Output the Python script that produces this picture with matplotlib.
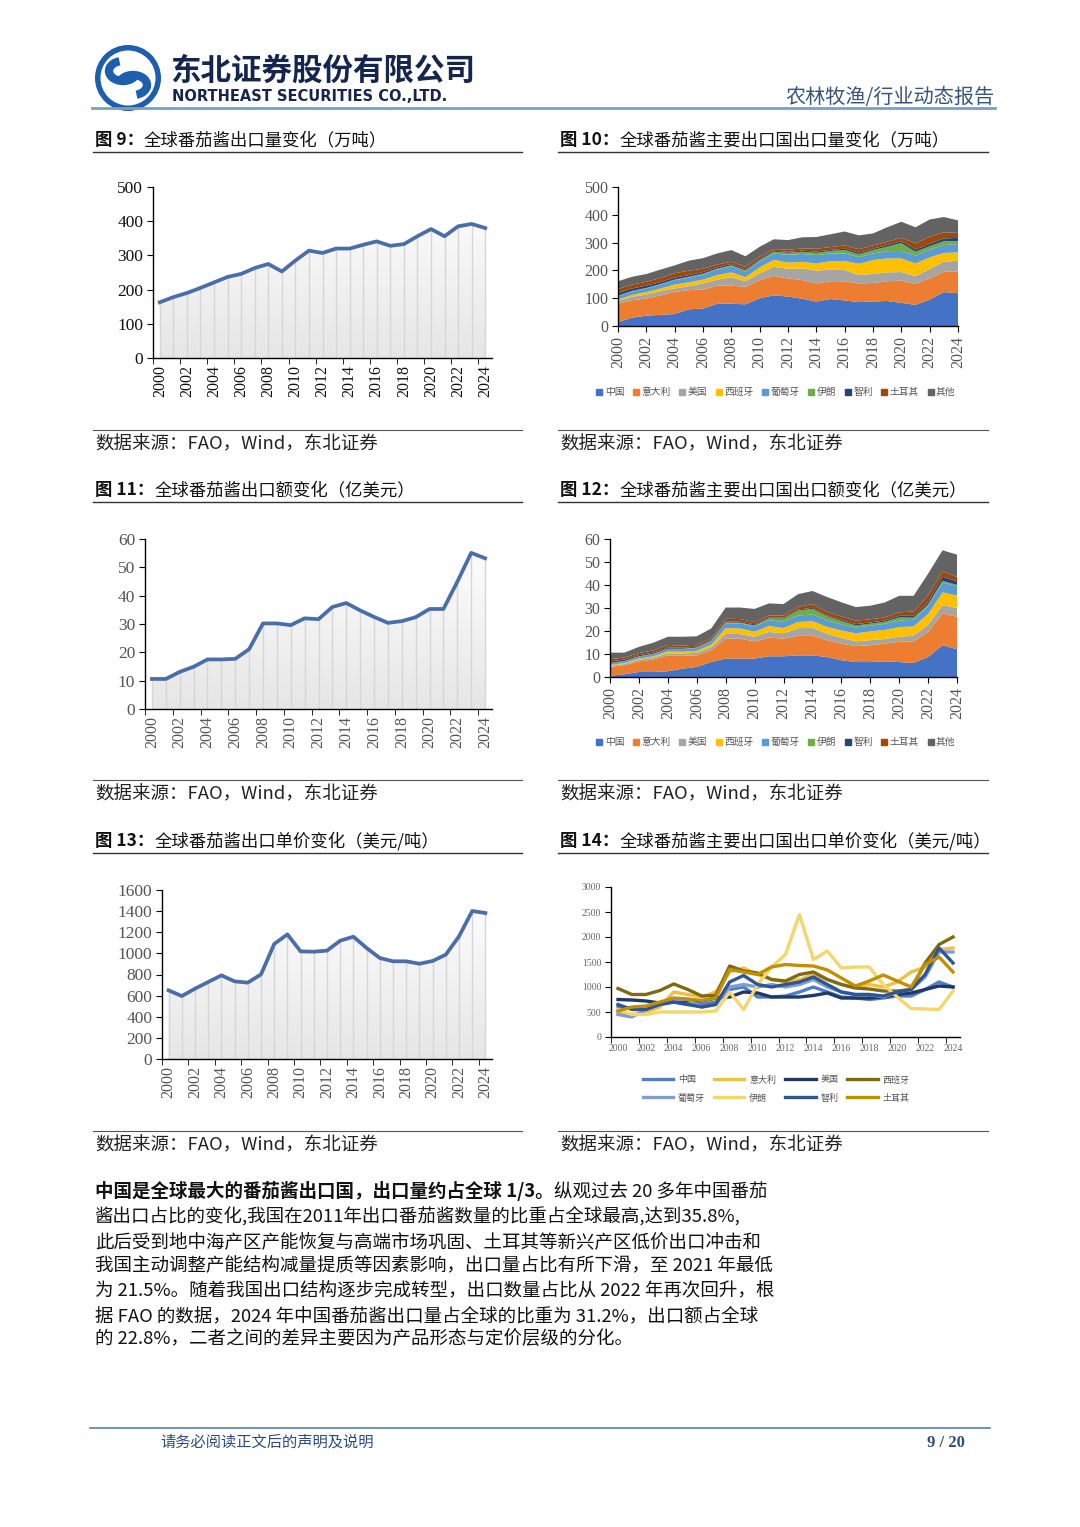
import numpy as np
import matplotlib
matplotlib.use('Agg')
import matplotlib.pyplot as plt
from matplotlib.colors import LinearSegmentedColormap
from matplotlib.lines import Line2D
from matplotlib.patches import Circle, Arc, Polygon

plt.rcParams['font.family'] = ['Noto Sans CJK SC', 'DejaVu Sans']

W, H = 1080, 1527

# ---- data ----
years = list(range(2000, 2025))

# 图9 全球番茄酱出口量（万吨）
volume_total = [163, 178, 190, 205, 221, 237, 246, 263, 275, 253, 285, 314, 307,
                320, 320, 331, 341, 328, 333, 356, 377, 356, 385, 392, 380]
# 图11 全球番茄酱出口额（亿美元）
value_total = [10.6, 10.6, 13.1, 14.9, 17.5, 17.5, 17.7, 21.1, 30.2, 30.2, 29.6, 32.0, 31.7,
               36.0, 37.4, 34.8, 32.5, 30.4, 31.0, 32.4, 35.3, 35.3, 44.9, 55.1, 53.2]
# 图13 全球番茄酱出口单价（美元/吨）
price_total = [650, 596, 666, 729, 792, 735, 723, 801, 1089, 1180, 1019, 1016, 1026,
               1120, 1158, 1051, 956, 925, 925, 902, 928, 988, 1161, 1401, 1382]

countries = ['中国', '意大利', '美国', '西班牙', '葡萄牙', '伊朗', '智利', '土耳其', '其他']
stack_colors = ['#4472C4', '#ED7D31', '#A5A5A5', '#FFC000', '#5B9BD5',
                '#70AD47', '#264478', '#9E480E', '#636363']

# 图10 主要出口国出口量（万吨）
vol_china = [14, 30, 37, 40, 43, 60, 63, 80, 80, 78, 100, 110, 106, 98, 88, 97, 92, 86, 88, 90, 83, 76, 95, 122, 118]
vol_italy = [66, 63, 62, 70, 80, 69, 68, 65, 65, 63, 65, 70, 65, 67, 65, 64, 69, 67, 67, 71, 80, 75, 76, 73, 77]
vol_usa = [10, 12, 14, 15, 12, 14, 22, 22, 30, 20, 24, 33, 35, 42, 46, 42, 40, 31, 32, 32, 31, 28, 34, 36, 40]
vol_spain = [5, 7, 9, 10, 14, 14, 14, 16, 18, 15, 22, 25, 22, 24, 26, 30, 33, 40, 50, 50, 49, 46, 42, 32, 30]
vol_portugal = [12, 12, 13, 14, 16, 17, 18, 20, 22, 20, 22, 23, 28, 28, 30, 28, 27, 24, 24, 26, 27, 28, 28, 28, 30]
vol_iran = [2, 2, 2, 2, 2, 3, 3, 3, 3, 3, 4, 6, 7, 8, 8, 9, 12, 10, 12, 16, 28, 14, 12, 14, 10]
vol_chile = [10, 9, 8, 7, 7, 6, 6, 5, 5, 4, 5, 4, 4, 4, 5, 4, 5, 6, 5, 6, 7, 8, 8, 10, 12]
vol_turkey = [14, 14, 14, 15, 16, 16, 12, 10, 8, 10, 8, 6, 7, 8, 10, 10, 12, 12, 12, 12, 12, 22, 26, 22, 18]
vol_other = [28, 28, 28, 30, 28, 36, 38, 40, 42, 38, 35, 35, 35, 40, 42, 46, 50, 50, 43, 52, 58, 58, 62, 55, 45]

# 图12 主要出口国出口额（亿美元）
val_china = [0.5, 1.2, 2.2, 2.2, 2.5, 3.6, 4.4, 6.5, 8.0, 8.0, 8.0, 9.0, 9.0, 9.4, 9.4, 8.7, 7.3, 6.5, 6.5, 6.8, 6.5, 6.1, 8.7, 13.8, 12.1]
val_italy = [3.9, 3.9, 4.6, 5.4, 6.9, 5.6, 5.0, 5.1, 8.7, 8.7, 7.5, 8.1, 7.7, 8.5, 8.5, 7.3, 7.2, 7.0, 7.3, 7.7, 8.8, 9.4, 10.9, 13.8, 14.1]
val_usa = [0.5, 0.6, 0.7, 0.8, 0.9, 1.0, 1.1, 1.3, 2.0, 2.0, 2.0, 2.5, 2.3, 3.3, 3.5, 2.8, 2.5, 2.0, 2.2, 2.0, 2.2, 2.5, 3.0, 3.6, 3.8]
val_spain = [0.3, 0.4, 0.5, 0.6, 0.8, 0.8, 0.9, 1.2, 2.5, 2.4, 2.2, 2.6, 2.3, 2.7, 2.9, 3.0, 3.2, 3.5, 3.8, 4.0, 4.2, 4.0, 4.8, 5.6, 5.4]
val_portugal = [0.8, 0.8, 0.9, 1.0, 1.1, 1.1, 1.2, 1.5, 2.2, 2.2, 2.3, 2.5, 2.6, 2.8, 2.9, 2.8, 2.7, 2.5, 2.5, 2.6, 2.8, 2.9, 3.4, 4.2, 4.2]
val_iran = [0.1, 0.1, 0.1, 0.1, 0.1, 0.2, 0.2, 0.2, 0.3, 0.3, 0.4, 0.8, 1.5, 2.2, 2.4, 1.8, 1.4, 0.9, 0.9, 0.9, 1.4, 0.9, 0.7, 0.8, 0.4]
val_chile = [0.7, 0.6, 0.5, 0.5, 0.5, 0.4, 0.4, 0.4, 0.5, 0.4, 0.5, 0.4, 0.4, 0.4, 0.5, 0.4, 0.5, 0.6, 0.5, 0.6, 0.7, 0.8, 1.0, 1.8, 1.6]
val_turkey = [0.9, 0.9, 0.9, 1.0, 1.1, 1.0, 0.8, 0.8, 1.1, 1.2, 1.0, 0.9, 0.9, 1.2, 1.6, 1.5, 1.5, 1.5, 1.4, 1.3, 1.5, 1.9, 3.0, 2.5, 1.8]
val_other = [2.9, 2.1, 2.7, 3.3, 3.6, 3.8, 3.7, 4.1, 4.9, 5.0, 5.7, 5.2, 5.0, 5.5, 5.7, 6.5, 6.2, 5.9, 5.9, 6.5, 7.2, 6.8, 9.4, 9.0, 9.8]

# 图14 主要出口国出口单价（美元/吨）
price_countries = ['中国', '意大利', '美国', '西班牙', '葡萄牙', '伊朗', '智利', '土耳其']
price_colors = ['#4F7FC9', '#EDC243', '#1F3864', '#7F6A12', '#7D9DD4', '#F4D66C', '#2F5597', '#BF9000']
price_china = [600, 580, 550, 650, 700, 650, 650, 700, 950, 1000, 800, 800, 820, 900, 1000, 900, 800, 780, 750, 780, 820, 820, 950, 1100, 1000]
price_italy = [500, 450, 500, 600, 900, 850, 800, 900, 1300, 1380, 1250, 1150, 1100, 1150, 1250, 1150, 1050, 1000, 1050, 1000, 1100, 1300, 1400, 1750, 1780]
price_usa = [750, 740, 720, 680, 700, 720, 720, 780, 800, 900, 880, 800, 800, 800, 830, 880, 780, 780, 780, 800, 850, 880, 950, 1020, 1000]
price_spain = [970, 850, 850, 930, 1060, 950, 820, 830, 1420, 1320, 1280, 1150, 1120, 1250, 1300, 1150, 1050, 980, 960, 920, 920, 950, 1480, 1850, 2000]
price_portugal = [450, 400, 550, 650, 750, 750, 600, 650, 1000, 1050, 1000, 1050, 1000, 1050, 1150, 1000, 900, 850, 850, 800, 900, 950, 1200, 1700, 1700]
price_iran = [550, 450, 450, 500, 500, 500, 500, 520, 900, 550, 1050, 1400, 1650, 2450, 1550, 1720, 1380, 1400, 1400, 1050, 800, 570, 560, 550, 920]
price_chile = [650, 550, 550, 650, 700, 650, 600, 650, 1100, 1230, 1050, 1000, 1050, 1100, 1200, 1050, 900, 850, 850, 820, 900, 950, 1250, 1780, 1480]
price_turkey = [520, 600, 620, 700, 780, 760, 730, 780, 1350, 1300, 1250, 1400, 1450, 1430, 1420, 1340, 1180, 1020, 1120, 1240, 1120, 1000, 1450, 1600, 1300]

SERIF = 'Liberation Serif'
LINE_BLUE = '#4A6EA8'

fig = plt.figure(figsize=(W / 100, H / 100), dpi=100)
page = fig.add_axes([0, 0, 1, 1], zorder=0)
page.set_xlim(0, W)
page.set_ylim(H, 0)
page.axis('off')


def axes_px(l, t, r, b):
    return fig.add_axes([l / W, 1 - b / H, (r - l) / W, (b - t) / H], zorder=2)


def two_part(x, y, bold, normal, size, color='#111111'):
    t1 = page.text(x, y, bold, fontsize=size, fontweight='bold', color=color, va='baseline')
    page.annotate(normal, xy=(1, y), xycoords=(t1, 'data'), fontsize=size,
                  color=color, va='baseline', ha='left')


# ---- header ----
page.add_patch(Circle((128, 78), 33, facecolor='#1d5fae', edgecolor='none'))
page.add_patch(Circle((128, 78), 27.5, facecolor='white', edgecolor='none'))
page.add_patch(Arc((123, 71), 28, 20, theta1=20, theta2=250, lw=6, color='#1d5fae'))
page.add_patch(Arc((133, 85), 28, 20, theta1=200, theta2=430, lw=6, color='#1d5fae'))
page.text(170, 80, '东北证券股份有限公司', fontsize=22, fontweight='bold', color='#14264d', va='baseline')
page.text(172, 101, 'NORTHEAST SECURITIES CO.,LTD.', family='DejaVu Sans', fontsize=10.5,
          fontweight='bold', color='#14264d', va='baseline')
page.text(995, 103, '农林牧渔/行业动态报告', fontsize=14.5, color='#35557a', ha='right', va='baseline')
page.plot([92, 995], [108, 108], color='#7d9fbd', lw=2)

# ---- titles / sources ----
titles = [
    (95, 145, '图 9：', '全球番茄酱出口量变化（万吨）'),
    (560, 145, '图 10：', '全球番茄酱主要出口国出口量变化（万吨）'),
    (95, 495, '图 11：', '全球番茄酱出口额变化（亿美元）'),
    (560, 495, '图 12：', '全球番茄酱主要出口国出口额变化（亿美元）'),
    (95, 846, '图 13：', '全球番茄酱出口单价变化（美元/吨）'),
    (560, 846, '图 14：', '全球番茄酱主要出口国出口单价变化（美元/吨）'),
]
for x, y, b, n in titles:
    two_part(x, y, b, n, 12.5)

for y in [152, 502, 853]:
    page.plot([93, 522], [y, y], color='#333333', lw=1)
    page.plot([558, 988], [y, y], color='#333333', lw=1)
for y in [430, 780, 1131]:
    page.plot([93, 522], [y, y], color='#555555', lw=0.8)
    page.plot([558, 988], [y, y], color='#555555', lw=0.8)
    page.text(95, y + 19, '数据来源：FAO，Wind，东北证券', fontsize=13.3, color='#222222', va='baseline')
    page.text(560, y + 19, '数据来源：FAO，Wind，东北证券', fontsize=13.3, color='#222222', va='baseline')

grad_cmap = LinearSegmentedColormap.from_list('g', ['#e6e6e6', '#ffffff'])


def style_axes(ax, color):
    for s in ['top', 'right']:
        ax.spines[s].set_visible(False)
    for s in ['left', 'bottom']:
        ax.spines[s].set_color('black')
        ax.spines[s].set_linewidth(1)
    ax.tick_params(axis='y', direction='out', length=4, color='black', labelcolor=color, pad=3)
    ax.set_facecolor('none')


def line_panel(ax, values, ymax, step, color, ysize=12.5):
    x = np.arange(len(values))
    v = np.array(values, dtype=float)
    verts = [(x[0], 0)] + list(zip(x, v)) + [(x[-1], 0)]
    clip = Polygon(verts, closed=True, facecolor='none', edgecolor='none')
    ax.add_patch(clip)
    img = ax.imshow(np.linspace(0, 1, 256).reshape(-1, 1), cmap=grad_cmap, origin='lower',
                    extent=[-0.5, len(v) - 0.5, 0, ymax], aspect='auto', zorder=1)
    img.set_clip_path(clip)
    ax.vlines(x, 0, v, color='#d6d6d6', lw=1, zorder=2)
    ax.plot(x, v, color=LINE_BLUE, lw=2.7, zorder=3, solid_joinstyle='round')
    ax.set_xlim(-0.5, len(v) - 0.5)
    ax.set_ylim(0, ymax)
    style_axes(ax, color)
    ax.set_yticks(np.arange(0, ymax + 1, step))
    ax.set_yticklabels([f'{t:g}' for t in np.arange(0, ymax + 1, step)], family=SERIF, fontsize=ysize)
    ax.set_xticks(np.arange(0, len(v), 2))
    ax.set_xticklabels([str(y) for y in years[::2]], rotation=90, family=SERIF, fontsize=11.5, color=color)
    ax.set_xticks(np.arange(-0.5, len(v), 2), minor=True)
    ax.tick_params(axis='x', which='major', length=0, pad=5)
    ax.tick_params(axis='x', which='minor', direction='out', length=4, color='black')


def stack_panel(ax, layers, ymax, step, legend_y):
    x = np.arange(len(years))
    ax.stackplot(x, *layers, colors=stack_colors, linewidth=0)
    ax.set_xlim(0, len(years) - 1)
    ax.set_ylim(0, ymax)
    style_axes(ax, '#555555')
    ax.set_yticks(np.arange(0, ymax + 1, step))
    ax.set_yticklabels([f'{t:g}' for t in np.arange(0, ymax + 1, step)], family=SERIF, fontsize=11.5)
    ax.set_xticks(np.arange(0, len(years), 2))
    ax.set_xticklabels([str(y) for y in years[::2]], rotation=90, family=SERIF, fontsize=11.5, color='#555555')
    ax.tick_params(axis='x', direction='out', length=4, color='black', pad=3)
    handles = [Line2D([], [], marker='s', ls='none', color=c, markersize=4) for c in stack_colors]
    fig.legend(handles, countries, loc='center', bbox_to_anchor=(775 / W, 1 - legend_y / H),
               ncol=9, frameon=False, fontsize=7, handletextpad=0.05, columnspacing=0.7,
               handlelength=1.0, labelcolor='#555555')


# 图9
ax9 = axes_px(153, 187, 492, 358)
line_panel(ax9, volume_total, 500, 100, '#111111')

# 图10
ax10 = axes_px(618, 187, 958, 326)
stack_panel(ax10, [vol_china, vol_italy, vol_usa, vol_spain, vol_portugal, vol_iran,
                   vol_chile, vol_turkey, vol_other], 500, 100, 392)

# 图11
ax11 = axes_px(145, 539, 492, 709)
line_panel(ax11, value_total, 60, 10, '#555555')

# 图12
ax12 = axes_px(610, 539, 957, 677)
stack_panel(ax12, [val_china, val_italy, val_usa, val_spain, val_portugal, val_iran,
                   val_chile, val_turkey, val_other], 60, 10, 742)

# 图13
ax13 = axes_px(162, 890, 492, 1059)
line_panel(ax13, price_total, 1600, 200, '#555555')

# 图14
ax14 = axes_px(611, 887, 960, 1037)
x = np.arange(len(years))
series14 = [price_china, price_italy, price_usa, price_spain, price_portugal,
            price_iran, price_chile, price_turkey]
lines14 = []
for vals, c in zip(series14, price_colors):
    ln, = ax14.plot(x, vals, color=c, lw=2.4, solid_joinstyle='round')
    lines14.append(ln)
ax14.set_xlim(-0.5, len(years) - 0.5)
ax14.set_ylim(0, 3000)
style_axes(ax14, '#666666')
ax14.set_yticks(np.arange(0, 3001, 500))
ax14.set_yticklabels([str(t) for t in range(0, 3001, 500)], family=SERIF, fontsize=7)
ax14.set_xticks(np.arange(0, len(years), 2))
ax14.set_xticklabels([str(y) for y in years[::2]], family=SERIF, fontsize=7, color='#666666')
ax14.set_xticks(np.arange(-0.5, len(years), 2), minor=True)
ax14.tick_params(axis='x', which='major', length=0, pad=5)
ax14.tick_params(axis='x', which='minor', direction='out', length=4, color='black')
order = [0, 4, 1, 5, 2, 6, 3, 7]
fig.legend([lines14[i] for i in order], [price_countries[i] for i in order], loc='center',
           bbox_to_anchor=(776 / W, 1 - 1089 / H), ncol=4, frameon=False, fontsize=6.5,
           handlelength=3.4, handletextpad=0.5, columnspacing=1.0, labelspacing=1.0,
           labelcolor='#555555')

# ---- paragraph ----
para_size = 13.3
py = [1197, 1222, 1247, 1271, 1296, 1321, 1345]
two_part(95, py[0], '中国是全球最大的番茄酱出口国，出口量约占全球 1/3。', '纵观过去 20 多年中国番茄', para_size)
rest = [
    '酱出口占比的变化,我国在2011年出口番茄酱数量的比重占全球最高,达到35.8%,',
    '此后受到地中海产区产能恢复与高端市场巩固、土耳其等新兴产区低价出口冲击和',
    '我国主动调整产能结构减量提质等因素影响，出口量占比有所下滑，至 2021 年最低',
    '为 21.5%。随着我国出口结构逐步完成转型，出口数量占比从 2022 年再次回升，根',
    '据 FAO 的数据，2024 年中国番茄酱出口量占全球的比重为 31.2%，出口额占全球',
    '的 22.8%，二者之间的差异主要因为产品形态与定价层级的分化。',
]
for y, s in zip(py[1:], rest):
    page.text(95, y, s, fontsize=para_size, color='#111111', va='baseline')

# ---- footer ----
page.plot([90, 990], [1428, 1428], color='#5b7fa8', lw=1.2)
page.text(160, 1447, '请务必阅读正文后的声明及说明', fontsize=11, color='#2b4c7e', va='baseline')
page.text(965, 1447, '9 / 20', family=SERIF, fontsize=12, fontweight='bold', color='#2b4c7e',
          ha='right', va='baseline')

fig.savefig('out.png', dpi=100, facecolor='white')
